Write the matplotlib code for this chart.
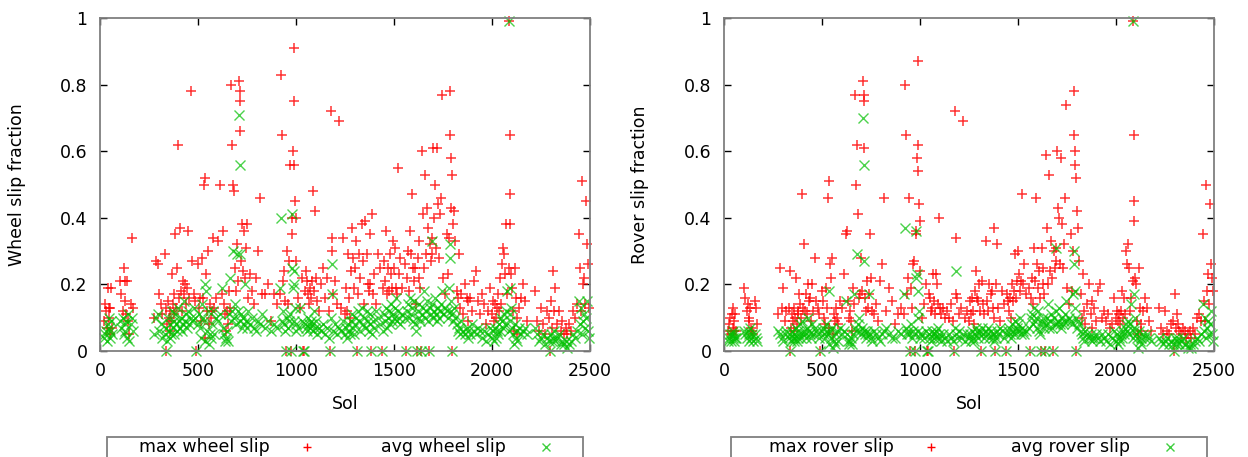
import matplotlib
matplotlib.use("Agg")
import matplotlib.pyplot as plt
from matplotlib.lines import Line2D
from matplotlib.patches import Rectangle

# ---------------- data ----------------
sol = [
    22, 28, 33, 38, 42, 45, 48, 50, 53, 57, 60,
    100, 108, 115, 120, 125, 128, 135, 140, 145, 150, 158, 163, 168,
    275, 285, 297, 300, 310, 318,
    330, 335, 338, 342, 345, 350, 355, 358, 362, 366, 370, 375, 380, 385, 390, 395,
    400, 405, 410, 415, 420, 425, 430, 435, 440, 445, 450, 455, 465, 470, 478, 485, 490,
    500, 505, 510, 515, 520, 525, 530, 535, 538, 540, 545, 550, 555, 560, 565, 570,
    575, 580, 590, 600, 610, 620, 628, 635, 640, 645, 650, 655, 660, 665, 670, 675,
    680, 685, 690, 695, 700, 705, 710, 712, 714, 716, 718,
    725, 730, 735, 740, 745, 750, 755, 765, 775, 785, 795, 805, 815, 825, 840, 855,
    870, 890, 905,
    918, 925, 928, 935, 940, 945, 950, 955, 960, 965, 970, 975, 978, 982, 985, 988,
    990, 992, 995, 998, 1000,
    1010, 1020, 1030, 1035, 1040, 1045, 1050, 1055, 1060, 1065, 1070, 1075, 1080,
    1085, 1090, 1095, 1100, 1105, 1115, 1130, 1140, 1150, 1160, 1170, 1175, 1178,
    1182, 1186, 1190, 1200, 1210, 1220, 1230, 1240, 1250,
    1255, 1260, 1265, 1270, 1275, 1280, 1285, 1290, 1295, 1300, 1305, 1310, 1315,
    1320, 1325, 1335, 1340, 1345, 1350, 1360, 1365, 1370, 1375, 1380, 1385, 1390,
    1395, 1400, 1410, 1420, 1430, 1440, 1445, 1450, 1455, 1460, 1465, 1470, 1475,
    1480, 1485, 1490, 1495, 1500, 1505, 1510, 1515, 1520, 1525, 1530, 1540,
    1555, 1560, 1565, 1570, 1575, 1580, 1585, 1590, 1595, 1600, 1605, 1610, 1615,
    1620, 1625, 1630, 1635, 1640, 1645, 1650, 1655, 1660, 1665, 1670, 1675, 1680,
    1683, 1688, 1692, 1696, 1700, 1705, 1710, 1715, 1720, 1725, 1730, 1735, 1740,
    1745, 1750, 1760, 1770, 1775, 1780, 1785, 1788, 1790, 1793, 1795, 1797, 1800,
    1805, 1810,
    1820, 1825, 1830, 1835, 1840, 1850, 1860, 1870, 1875, 1880, 1890, 1900, 1910,
    1920, 1930, 1940, 1950, 1960, 1970, 1980, 1990, 2000, 2005, 2010, 2015, 2020,
    2025, 2030, 2035, 2040, 2045, 2050, 2055, 2060, 2065, 2070, 2075, 2085, 2088,
    2090, 2092, 2094, 2096, 2100,
    2105, 2110, 2115, 2120, 2125, 2130, 2140, 2150, 2160, 2170, 2180,
    2220, 2230, 2240, 2250, 2260, 2270, 2280, 2290, 2295, 2300, 2305, 2310, 2315,
    2320, 2330, 2340, 2350, 2355, 2365, 2375, 2385, 2395, 2405, 2415, 2425, 2435,
    2445, 2450, 2455, 2460, 2465, 2470, 2475, 2480, 2485, 2490, 2495,
]

max_wheel = [
    0.09, 0.14, 0.12, 0.07, 0.19, 0.13, 0.10, 0.05, 0.13, 0.19, 0.07,
    0.21, 0.17, 0.12, 0.25, 0.15, 0.21, 0.11, 0.21, 0.09, 0.05, 0.14, 0.34, 0.13,
    0.10, 0.27, 0.26, 0.17, 0.14, 0.11,
    0.29, 0.00, 0.13, 0.08, 0.15, 0.10, 0.06, 0.12, 0.09, 0.23, 0.14, 0.11, 0.17, 0.35, 0.13, 0.25,
    0.62, 0.16, 0.37, 0.18, 0.12, 0.21, 0.17, 0.20, 0.14, 0.19, 0.36, 0.16, 0.78, 0.27, 0.17, 0.15, 0.00,
    0.26, 0.13, 0.16, 0.09, 0.28, 0.16, 0.50, 0.52, 0.04, 0.23, 0.12, 0.30, 0.08, 0.14, 0.10, 0.12,
    0.34, 0.13, 0.16, 0.33, 0.50, 0.17, 0.36, 0.14, 0.11, 0.06, 0.12, 0.08, 0.18, 0.13, 0.80, 0.62,
    0.50, 0.48, 0.25, 0.18, 0.32, 0.21, 0.81, 0.78, 0.75, 0.66, 0.27,
    0.38, 0.24, 0.36, 0.22, 0.31, 0.38, 0.16, 0.23, 0.18, 0.14, 0.22, 0.30, 0.46, 0.17, 0.17, 0.20,
    0.09, 0.17, 0.14,
    0.17, 0.83, 0.65, 0.21, 0.24, 0.15, 0.00, 0.30, 0.14, 0.27, 0.56, 0.00, 0.40, 0.35, 0.60, 0.91,
    0.75, 0.56, 0.45, 0.40, 0.27,
    0.16, 0.13, 0.22, 0.00, 0.00, 0.18, 0.24, 0.21, 0.17, 0.14, 0.19, 0.16, 0.21,
    0.48, 0.18, 0.42, 0.22, 0.15, 0.12, 0.20, 0.25, 0.16, 0.22, 0.12, 0.00, 0.72,
    0.34, 0.30, 0.17, 0.21, 0.14, 0.69, 0.13, 0.34, 0.11,
    0.19, 0.12, 0.29, 0.16, 0.10, 0.24, 0.37, 0.28, 0.19, 0.25, 0.33, 0.00, 0.17,
    0.29, 0.22, 0.38, 0.27, 0.14, 0.39, 0.29, 0.20, 0.18, 0.35, 0.20, 0.00, 0.41,
    0.17, 0.23, 0.14, 0.29, 0.25, 0.00, 0.19, 0.27, 0.21, 0.36, 0.17, 0.25, 0.18,
    0.29, 0.23, 0.19, 0.33, 0.25, 0.31, 0.19, 0.17, 0.55, 0.23, 0.28, 0.19,
    0.26, 0.00, 0.22, 0.30, 0.18, 0.36, 0.29, 0.47, 0.25, 0.21, 0.25, 0.14, 0.00,
    0.28, 0.22, 0.33, 0.19, 0.00, 0.60, 0.41, 0.25, 0.53, 0.29, 0.43, 0.37, 0.00,
    0.32, 0.27, 0.34, 0.29, 0.61, 0.40, 0.50, 0.31, 0.61, 0.44, 0.28, 0.41, 0.46,
    0.77, 0.22, 0.17, 0.35, 0.23, 0.34, 0.78, 0.65, 0.43, 0.58, 0.00, 0.53, 0.38,
    0.42, 0.33,
    0.18, 0.16, 0.29, 0.13, 0.17, 0.11, 0.20, 0.16, 0.09, 0.15, 0.16, 0.12, 0.21,
    0.24, 0.15, 0.11, 0.17, 0.14, 0.08, 0.12, 0.19, 0.11, 0.15, 0.09, 0.14, 0.10,
    0.13, 0.17, 0.12, 0.22, 0.14, 0.26, 0.31, 0.29, 0.23, 0.38, 0.17, 0.25, 0.99,
    0.65, 0.47, 0.38, 0.23, 0.19,
    0.12, 0.06, 0.25, 0.16, 0.10, 0.05, 0.13, 0.16, 0.20, 0.15, 0.09,
    0.18, 0.09, 0.06, 0.13, 0.08, 0.05, 0.12, 0.10, 0.00, 0.15, 0.07, 0.24, 0.12,
    0.19, 0.08, 0.12, 0.06, 0.09, 0.05, 0.07, 0.05, 0.08, 0.06, 0.12, 0.10, 0.14,
    0.35, 0.25, 0.12, 0.51, 0.20, 0.22, 0.14, 0.45, 0.32, 0.26, 0.13,
]

avg_wheel = [
    0.04, 0.05, 0.06, 0.03, 0.08, 0.07, 0.10, 0.04, 0.06, 0.09, 0.05,
    0.09, 0.07, 0.10, 0.05, 0.08, 0.06, 0.09, 0.04, 0.11, 0.03, 0.08, 0.10, 0.06,
    0.05, 0.10, 0.11, 0.06, 0.08, 0.04,
    0.05, 0.00, 0.07, 0.03, 0.10, 0.06, 0.04, 0.08, 0.05, 0.12, 0.07, 0.09, 0.05, 0.11, 0.08, 0.06,
    0.13, 0.09, 0.07, 0.10, 0.06, 0.08, 0.15, 0.09, 0.11, 0.07, 0.12, 0.08, 0.10, 0.09, 0.13, 0.10, 0.00,
    0.08, 0.11, 0.07, 0.04, 0.14, 0.10, 0.09, 0.20, 0.03, 0.18, 0.06, 0.12, 0.02, 0.05, 0.04, 0.08,
    0.12, 0.05, 0.10, 0.09, 0.11, 0.19, 0.07, 0.05, 0.03, 0.04, 0.06, 0.03, 0.11, 0.22, 0.09, 0.12,
    0.30, 0.10, 0.14, 0.08, 0.29, 0.12, 0.71, 0.56, 0.29, 0.09, 0.11,
    0.07, 0.10, 0.08, 0.20, 0.09, 0.07, 0.12, 0.08, 0.10, 0.07, 0.06, 0.09, 0.08, 0.11, 0.07, 0.09,
    0.06, 0.08, 0.07,
    0.19, 0.40, 0.09, 0.12, 0.08, 0.06, 0.00, 0.10, 0.07, 0.09, 0.11, 0.00, 0.41, 0.25, 0.19, 0.20,
    0.24, 0.09, 0.13, 0.08, 0.06,
    0.07, 0.13, 0.09, 0.00, 0.00, 0.08, 0.07, 0.06, 0.10, 0.08, 0.07, 0.09, 0.08,
    0.06, 0.12, 0.07, 0.09, 0.05, 0.07, 0.06, 0.08, 0.05, 0.07, 0.04, 0.00, 0.10,
    0.26, 0.17, 0.06, 0.08, 0.05, 0.07, 0.06, 0.09, 0.05,
    0.07, 0.04, 0.08, 0.06, 0.05, 0.09, 0.11, 0.07, 0.05, 0.08, 0.10, 0.00, 0.12,
    0.09, 0.06, 0.13, 0.08, 0.10, 0.07, 0.12, 0.09, 0.06, 0.11, 0.08, 0.00, 0.05,
    0.09, 0.07, 0.12, 0.10, 0.08, 0.00, 0.06, 0.11, 0.09, 0.13, 0.07, 0.10, 0.12,
    0.08, 0.14, 0.09, 0.11, 0.10, 0.13, 0.16, 0.09, 0.12, 0.10, 0.08, 0.11,
    0.10, 0.00, 0.12, 0.14, 0.10, 0.16, 0.11, 0.13, 0.09, 0.15, 0.08, 0.06, 0.00,
    0.12, 0.10, 0.14, 0.09, 0.00, 0.11, 0.13, 0.18, 0.10, 0.12, 0.15, 0.09, 0.00,
    0.13, 0.11, 0.33, 0.14, 0.10, 0.12, 0.16, 0.11, 0.09, 0.13, 0.10, 0.12, 0.14,
    0.18, 0.11, 0.13, 0.12, 0.10, 0.19, 0.32, 0.28, 0.15, 0.12, 0.00, 0.11, 0.09,
    0.13, 0.10,
    0.08, 0.06, 0.07, 0.05, 0.09, 0.06, 0.05, 0.07, 0.04, 0.06, 0.05, 0.08, 0.06,
    0.05, 0.07, 0.06, 0.04, 0.06, 0.03, 0.05, 0.07, 0.04, 0.06, 0.03, 0.07, 0.04,
    0.06, 0.05, 0.08, 0.06, 0.10, 0.09, 0.07, 0.11, 0.08, 0.12, 0.18, 0.06, 0.99,
    0.19, 0.09, 0.11, 0.13, 0.07,
    0.05, 0.02, 0.08, 0.04, 0.06, 0.03, 0.07, 0.05, 0.06, 0.07, 0.05,
    0.07, 0.05, 0.03, 0.04, 0.05, 0.02, 0.04, 0.03, 0.00, 0.05, 0.03, 0.04, 0.06,
    0.03, 0.04, 0.05, 0.02, 0.03, 0.02, 0.03, 0.01, 0.02, 0.03, 0.05, 0.04, 0.06,
    0.15, 0.08, 0.13, 0.05, 0.09, 0.11, 0.07, 0.10, 0.15, 0.06, 0.04,
]

max_rover = [
    0.06, 0.08, 0.10, 0.05, 0.11, 0.13, 0.07, 0.06, 0.09, 0.11, 0.06,
    0.19, 0.16, 0.12, 0.14, 0.09, 0.10, 0.13, 0.07, 0.06, 0.05, 0.15, 0.13, 0.08,
    0.11, 0.25, 0.13, 0.19, 0.09, 0.12,
    0.13, 0.00, 0.24, 0.07, 0.11, 0.09, 0.13, 0.06, 0.10, 0.22, 0.08, 0.11, 0.12, 0.17, 0.14, 0.10,
    0.47, 0.13, 0.32, 0.12, 0.17, 0.11, 0.20, 0.15, 0.16, 0.09, 0.20, 0.12, 0.28, 0.15, 0.13, 0.11, 0.00,
    0.18, 0.15, 0.10, 0.08, 0.19, 0.13, 0.46, 0.51, 0.07, 0.26, 0.22, 0.28, 0.05, 0.11, 0.09, 0.13,
    0.10, 0.08, 0.15, 0.13, 0.23, 0.35, 0.36, 0.15, 0.10, 0.12, 0.09, 0.06, 0.19, 0.14, 0.77, 0.50,
    0.62, 0.41, 0.16, 0.17, 0.28, 0.18, 0.81, 0.77, 0.75, 0.61, 0.16,
    0.12, 0.21, 0.13, 0.17, 0.35, 0.22, 0.12, 0.11, 0.14, 0.09, 0.21, 0.26, 0.46, 0.12, 0.19, 0.15,
    0.08, 0.11, 0.13,
    0.11, 0.80, 0.65, 0.17, 0.22, 0.46, 0.00, 0.19, 0.13, 0.26, 0.27, 0.00, 0.35, 0.36, 0.58, 0.87,
    0.62, 0.54, 0.44, 0.39, 0.24,
    0.10, 0.14, 0.20, 0.00, 0.00, 0.17, 0.16, 0.12, 0.13, 0.23, 0.15, 0.11, 0.23,
    0.20, 0.14, 0.40, 0.13, 0.11, 0.13, 0.10, 0.12, 0.10, 0.14, 0.09, 0.00, 0.72,
    0.34, 0.17, 0.16, 0.11, 0.13, 0.69, 0.10, 0.12, 0.09,
    0.15, 0.11, 0.16, 0.12, 0.08, 0.18, 0.24, 0.16, 0.15, 0.20, 0.12, 0.00, 0.21,
    0.14, 0.11, 0.33, 0.15, 0.12, 0.20, 0.17, 0.18, 0.13, 0.37, 0.10, 0.00, 0.20,
    0.32, 0.13, 0.09, 0.18, 0.14, 0.00, 0.17, 0.15, 0.12, 0.16, 0.10, 0.20, 0.15,
    0.18, 0.29, 0.16, 0.21, 0.30, 0.23, 0.18, 0.21, 0.47, 0.20, 0.26, 0.17,
    0.19, 0.00, 0.16, 0.22, 0.14, 0.31, 0.21, 0.46, 0.26, 0.19, 0.24, 0.16, 0.00,
    0.31, 0.20, 0.25, 0.17, 0.00, 0.59, 0.37, 0.20, 0.53, 0.24, 0.33, 0.22, 0.00,
    0.30, 0.25, 0.31, 0.27, 0.60, 0.43, 0.40, 0.26, 0.58, 0.38, 0.25, 0.32, 0.46,
    0.74, 0.19, 0.14, 0.35, 0.18, 0.30, 0.78, 0.65, 0.60, 0.56, 0.00, 0.52, 0.42,
    0.37, 0.27,
    0.17, 0.10, 0.23, 0.12, 0.08, 0.14, 0.20, 0.11, 0.07, 0.15, 0.13, 0.09, 0.18,
    0.20, 0.10, 0.12, 0.09, 0.11, 0.07, 0.08, 0.16, 0.10, 0.12, 0.09, 0.11, 0.08,
    0.12, 0.18, 0.10, 0.16, 0.11, 0.30, 0.26, 0.32, 0.25, 0.12, 0.16, 0.21, 0.99,
    0.65, 0.45, 0.39, 0.22, 0.20,
    0.09, 0.05, 0.25, 0.13, 0.08, 0.06, 0.12, 0.16, 0.13, 0.09, 0.06,
    0.13, 0.07, 0.05, 0.12, 0.06, 0.05, 0.08, 0.09, 0.00, 0.17, 0.07, 0.11, 0.08,
    0.06, 0.05, 0.07, 0.06, 0.04, 0.05, 0.06, 0.04, 0.07, 0.05, 0.10, 0.11, 0.09,
    0.35, 0.15, 0.09, 0.50, 0.18, 0.23, 0.14, 0.44, 0.26, 0.22, 0.18,
]

avg_rover = [
    0.03, 0.04, 0.05, 0.03, 0.05, 0.04, 0.06, 0.03, 0.05, 0.04, 0.04,
    0.06, 0.05, 0.04, 0.06, 0.05, 0.03, 0.07, 0.04, 0.05, 0.03, 0.05, 0.04, 0.03,
    0.06, 0.05, 0.04, 0.03, 0.05, 0.06,
    0.04, 0.00, 0.05, 0.03, 0.06, 0.04, 0.03, 0.05, 0.04, 0.07, 0.03, 0.06, 0.04, 0.05, 0.08, 0.04,
    0.09, 0.05, 0.06, 0.05, 0.04, 0.07, 0.10, 0.06, 0.05, 0.04, 0.08, 0.05, 0.07, 0.06, 0.05, 0.04, 0.00,
    0.06, 0.07, 0.05, 0.04, 0.08, 0.06, 0.05, 0.18, 0.02, 0.06, 0.04, 0.07, 0.01, 0.03, 0.02, 0.05,
    0.06, 0.03, 0.07, 0.05, 0.06, 0.15, 0.05, 0.03, 0.02, 0.03, 0.04, 0.02, 0.05, 0.17, 0.07, 0.06,
    0.29, 0.08, 0.10, 0.06, 0.05, 0.07, 0.70, 0.56, 0.27, 0.06, 0.05,
    0.04, 0.06, 0.05, 0.17, 0.05, 0.04, 0.03, 0.06, 0.05, 0.04, 0.03, 0.05, 0.06, 0.07, 0.05, 0.04,
    0.04, 0.06, 0.05,
    0.17, 0.37, 0.07, 0.05, 0.06, 0.05, 0.00, 0.08, 0.04, 0.06, 0.05, 0.00, 0.36, 0.22, 0.23, 0.18,
    0.10, 0.06, 0.12, 0.05, 0.04,
    0.05, 0.04, 0.06, 0.00, 0.00, 0.05, 0.04, 0.03, 0.06, 0.05, 0.04, 0.05, 0.06,
    0.04, 0.07, 0.05, 0.04, 0.03, 0.05, 0.04, 0.03, 0.05, 0.04, 0.03, 0.00, 0.07,
    0.24, 0.05, 0.04, 0.06, 0.04, 0.05, 0.03, 0.05, 0.04,
    0.05, 0.03, 0.06, 0.04, 0.03, 0.05, 0.07, 0.06, 0.04, 0.05, 0.06, 0.00, 0.07,
    0.05, 0.04, 0.06, 0.05, 0.07, 0.04, 0.06, 0.05, 0.04, 0.05, 0.03, 0.00, 0.04,
    0.06, 0.05, 0.07, 0.06, 0.04, 0.00, 0.05, 0.06, 0.07, 0.05, 0.04, 0.08, 0.06,
    0.05, 0.09, 0.06, 0.07, 0.08, 0.06, 0.10, 0.05, 0.07, 0.06, 0.05, 0.06,
    0.07, 0.00, 0.10, 0.11, 0.08, 0.13, 0.09, 0.10, 0.07, 0.12, 0.06, 0.05, 0.00,
    0.09, 0.08, 0.10, 0.07, 0.00, 0.08, 0.10, 0.14, 0.07, 0.09, 0.11, 0.07, 0.00,
    0.10, 0.08, 0.31, 0.12, 0.08, 0.09, 0.13, 0.08, 0.07, 0.10, 0.08, 0.09, 0.11,
    0.15, 0.09, 0.10, 0.09, 0.08, 0.17, 0.30, 0.26, 0.13, 0.18, 0.00, 0.10, 0.07,
    0.09, 0.08,
    0.06, 0.05, 0.04, 0.03, 0.06, 0.05, 0.04, 0.05, 0.03, 0.04, 0.04, 0.05, 0.04,
    0.03, 0.05, 0.04, 0.03, 0.05, 0.02, 0.04, 0.06, 0.03, 0.05, 0.02, 0.04, 0.03,
    0.05, 0.04, 0.06, 0.05, 0.07, 0.08, 0.06, 0.09, 0.05, 0.08, 0.14, 0.04, 0.99,
    0.17, 0.06, 0.07, 0.10, 0.05,
    0.04, 0.01, 0.06, 0.03, 0.04, 0.02, 0.05, 0.04, 0.05, 0.04, 0.03,
    0.04, 0.03, 0.02, 0.03, 0.04, 0.02, 0.03, 0.02, 0.00, 0.04, 0.02, 0.03, 0.04,
    0.02, 0.03, 0.04, 0.02, 0.02, 0.01, 0.02, 0.01, 0.02, 0.03, 0.04, 0.03, 0.05,
    0.14, 0.06, 0.10, 0.04, 0.07, 0.09, 0.05, 0.08, 0.12, 0.05, 0.03,
]

x_ticks = [0, 500, 1000, 1500, 2000, 2500]
y_ticks = [0, 0.2, 0.4, 0.6, 0.8, 1]
y_tick_labels = ["0", "0.2", "0.4", "0.6", "0.8", "1"]

panels = [
    ("Wheel slip fraction", "max wheel slip", "avg wheel slip", max_wheel, avg_wheel),
    ("Rover slip fraction", "max rover slip", "avg rover slip", max_rover, avg_rover),
]

# ---------------- styling ----------------
RED = "#ff0000"
GREEN = "#00c000"
FS = 12.5
W, H = 1248, 457
plt.rcParams["font.family"] = ["DejaVu Sans"]

fig = plt.figure(figsize=(W / 100, H / 100), dpi=100)

ax_left_px = [100, 724]
ax_w_px, ax_top_px, ax_bot_px = 490, 18, 351
legend_offsets = [0, 624]

for i, (ylabel, lab_max, lab_avg, vmax, vavg) in enumerate(panels):
    l = ax_left_px[i]
    ax = fig.add_axes([l / W, (H - ax_bot_px) / H, ax_w_px / W,
                       (ax_bot_px - ax_top_px) / H])
    ax.plot(sol, vmax, linestyle="none", marker="+", color=RED, markersize=7,
            markeredgewidth=1.1, alpha=0.8, clip_on=False)
    ax.plot(sol, vavg, linestyle="none", marker="x", color=GREEN, markersize=6.5,
            markeredgewidth=1.0, alpha=0.7, clip_on=False)
    ax.set_xlim(0, 2500)
    ax.set_ylim(0, 1)
    ax.set_xticks(x_ticks)
    ax.set_xticklabels([str(t) for t in x_ticks])
    ax.set_yticks(y_ticks)
    ax.set_yticklabels(y_tick_labels)
    ax.tick_params(direction="in", length=5, width=1, color="black",
                   top=True, right=True, labelsize=FS)
    ax.tick_params(axis="y", pad=9)
    ax.tick_params(axis="x", pad=8)
    for s in ax.spines.values():
        s.set_color("#7f7f7f")
        s.set_linewidth(1.3)
    ax.set_xlabel("Sol", fontsize=FS)
    ax.xaxis.set_label_coords(0.5, (ax_bot_px - 404) / (ax_bot_px - ax_top_px))
    ax.xaxis.label.set_va("center")
    ax.set_ylabel(ylabel, fontsize=FS)
    ax.yaxis.set_label_coords((17 + (623 if i else 0) - l) / ax_w_px, 0.5)
    ax.yaxis.label.set_va("center")
    ax.yaxis.label.set_ha("center")

    # legend box (gnuplot style, horizontal, text then sample)
    o = legend_offsets[i]
    fig.add_artist(Rectangle(((107 + o) / W, -10 / H), 476 / W, (H - 437 + 10) / H,
                             transform=fig.transFigure, facecolor="white",
                             edgecolor="#7f7f7f", linewidth=1.3))
    ly = (H - 447) / H
    fig.text((270 + o) / W, ly, lab_max, ha="right", va="center", fontsize=FS)
    fig.add_artist(Line2D([(307 + o) / W], [ly], transform=fig.transFigure,
                          marker="+", color=RED, markersize=6, markeredgewidth=1.0,
                          linestyle="none"))
    fig.text((506 + o) / W, ly, lab_avg, ha="right", va="center", fontsize=FS)
    fig.add_artist(Line2D([(546 + o) / W], [ly], transform=fig.transFigure,
                          marker="x", color=GREEN, markersize=6, markeredgewidth=1.0,
                          alpha=0.75, linestyle="none"))

fig.savefig("out.png", dpi=100)
